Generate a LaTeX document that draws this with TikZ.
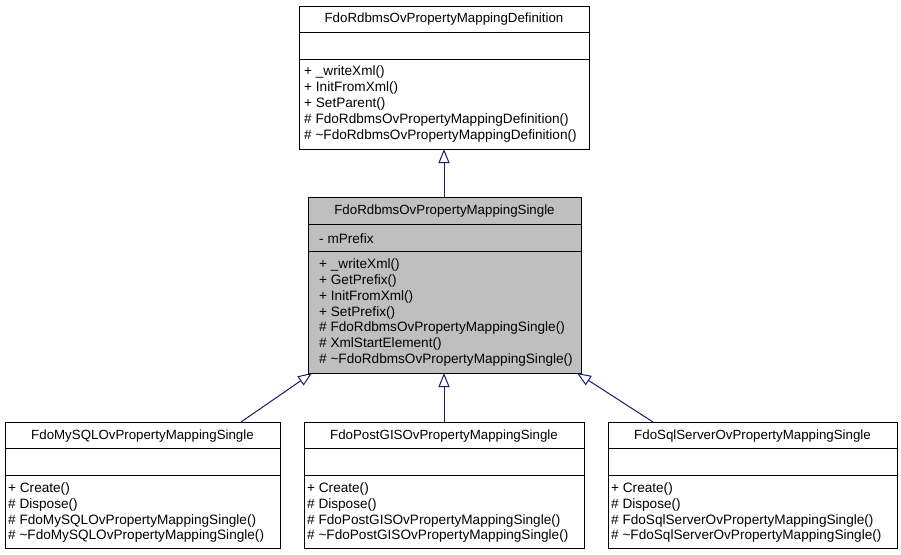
\documentclass[tikz,border=0pt]{standalone}
\usepackage{fontspec}
\setmainfont{Liberation Sans}
\usetikzlibrary{arrows.meta}
\definecolor{navy}{HTML}{191970}
\definecolor{graybox}{HTML}{BFBFBF}
\begin{document}
\begin{tikzpicture}[x=1pt,y=-1pt,
  box/.style={draw=black, line width=1pt, inner sep=0pt, anchor=north west},
  txt/.style={font=\fontsize{13.3}{15.6}\selectfont, inner sep=0pt},
  mem/.style={font=\fontsize{13.6}{15.6}\selectfont, inner sep=0pt, anchor=west},
  divider/.style={draw=black, line width=1pt},
  inh/.style={draw=navy, line width=1pt, -{Triangle[open, length=14pt, width=11pt, line width=1pt]}}]
\useasboundingbox[fill=white] (0,0) rectangle (901,554);

% ---- top box
\node[box, fill=white, minimum width=290pt, minimum height=143pt] (top) at (299,6) {};
\draw[divider] (299,32) -- (589,32);
\draw[divider] (299,59) -- (589,59);
\node[txt] (topT) at (444,19) {FdoRdbmsOvPropertyMappingDefinition};
\node[mem] (t1) at (304,72) {+ \_writeXml()};
\node[mem] (t2) at (304,88) {+ InitFromXml()};
\node[mem] (t3) at (304,104) {+ SetParent()};
\node[mem] (t4) at (304,120) {\# FdoRdbmsOvPropertyMappingDefinition()};
\node[mem] (t5) at (304,136) {\# \textasciitilde FdoRdbmsOvPropertyMappingDefinition()};

% ---- middle box
\node[box, fill=graybox, minimum width=273pt, minimum height=176pt] (mid) at (308,197) {};
\draw[divider] (308,224) -- (581,224);
\draw[divider] (308,251) -- (581,251);
\node[txt] (midT) at (444.5,211) {FdoRdbmsOvPropertyMappingSingle};
\node[mem] (ma) at (319,239) {- mPrefix};
\node[mem] (m1) at (319,265) {+ \_writeXml()};
\node[mem] (m2) at (319,281) {+ GetPrefix()};
\node[mem] (m3) at (319,297) {+ InitFromXml()};
\node[mem] (m4) at (319,313) {+ SetPrefix()};
\node[mem] (m5) at (319,328) {\# FdoRdbmsOvPropertyMappingSingle()};
\node[mem] (m6) at (319,344) {\# XmlStartElement()};
\node[mem] (m7) at (319,360) {\# \textasciitilde FdoRdbmsOvPropertyMappingSingle()};

% ---- bottom left
\node[box, fill=white, minimum width=275pt, minimum height=126pt] (bl) at (5,422) {};
\draw[divider] (5,448) -- (280,448);
\draw[divider] (5,475) -- (280,475);
\node[txt] (blT) at (142.5,436) {FdoMySQLOvPropertyMappingSingle};
\node[mem] (bl1) at (8,489) {+ Create()};
\node[mem] (bl2) at (8,505) {\# Dispose()};
\node[mem] (bl3) at (8,521) {\# FdoMySQLOvPropertyMappingSingle()};
\node[mem] (bl4) at (8,536) {\# \textasciitilde FdoMySQLOvPropertyMappingSingle()};

% ---- bottom middle
\node[box, fill=white, minimum width=280pt, minimum height=126pt] (bm) at (304,422) {};
\draw[divider] (304,448) -- (584,448);
\draw[divider] (304,475) -- (584,475);
\node[txt] (bmT) at (444,436) {FdoPostGISOvPropertyMappingSingle};
\node[mem] (bm1) at (307,489) {+ Create()};
\node[mem] (bm2) at (307,505) {\# Dispose()};
\node[mem] (bm3) at (307,521) {\# FdoPostGISOvPropertyMappingSingle()};
\node[mem] (bm4) at (307,536) {\# \textasciitilde FdoPostGISOvPropertyMappingSingle()};

% ---- bottom right
\node[box, fill=white, minimum width=289pt, minimum height=126pt] (br) at (608,422) {};
\draw[divider] (608,448) -- (897,448);
\draw[divider] (608,475) -- (897,475);
\node[txt] (brT) at (752.5,436) {FdoSqlServerOvPropertyMappingSingle};
\node[mem] (br1) at (611,489) {+ Create()};
\node[mem] (br2) at (611,505) {\# Dispose()};
\node[mem] (br3) at (611,521) {\# FdoSqlServerOvPropertyMappingSingle()};
\node[mem] (br4) at (611,536) {\# \textasciitilde FdoSqlServerOvPropertyMappingSingle()};

% ---- connectors
\coordinate (topIn) at (444,149);
\coordinate (midOut) at (444,197);
\coordinate (blOut) at (241,422);
\coordinate (blIn) at (312,373);
\coordinate (bmOut) at (444,422);
\coordinate (bmIn) at (444,373);
\coordinate (brOut) at (653,422);
\coordinate (brIn) at (577,373);
\draw[inh] (midOut) -- (topIn);
\draw[inh] (blOut) -- (blIn);
\draw[inh] (bmOut) -- (bmIn);
\draw[inh] (brOut) -- (brIn);
\end{tikzpicture}
\end{document}
